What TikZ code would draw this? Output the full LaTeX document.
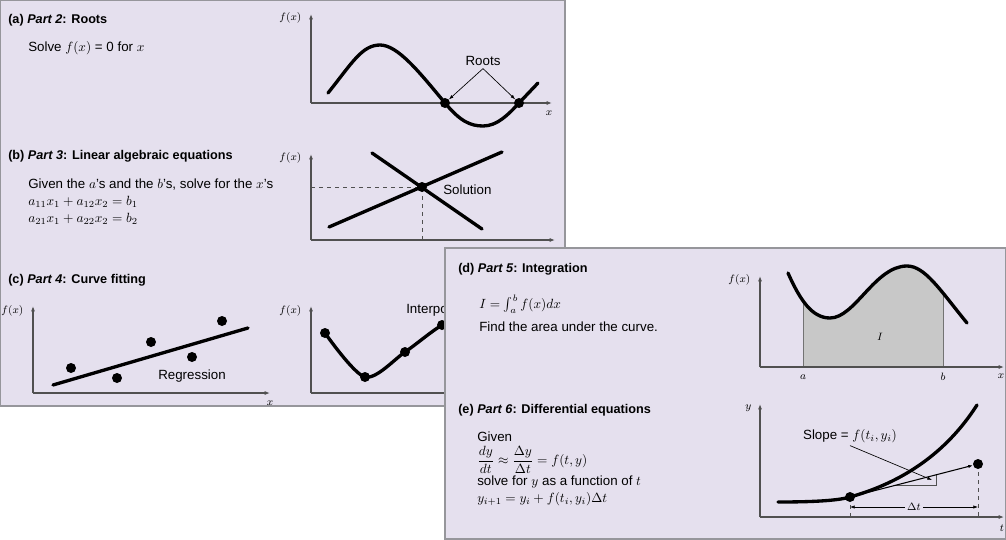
\documentclass[tikz,border=0pt]{standalone}
\usepackage{fontspec}
\setmainfont{Liberation Sans}
\usetikzlibrary{arrows.meta}
\definecolor{panelbg}{RGB}{229,224,238}
\definecolor{panelrule}{RGB}{150,150,155}
\definecolor{axisgray}{RGB}{80,80,80}
\definecolor{areagray}{RGB}{200,200,200}
\tikzset{
  panel/.style={fill=panelbg,draw=panelrule,line width=0.8pt},
  axisline/.style={axisgray,line width=0.9pt,-{Latex[length=4pt,width=3pt]}},
  thickcurve/.style={line width=2.5pt,line cap=round},
  dot/.style={circle,fill=black,inner sep=0pt,minimum size=7.5pt},
  paneltitle/.style={anchor=west,inner sep=0pt,font=\fontsize{9.5}{11}\selectfont\bfseries},
  bodytext/.style={anchor=west,inner sep=0pt,font=\fontsize{10}{12}\selectfont},
  axlabel/.style={font=\fontsize{8}{9}\selectfont},
  guide/.style={axisgray,dashed,line width=0.5pt},
  pointer/.style={line width=0.5pt,-{Latex[length=3.5pt,width=2.5pt]}},
}
\begin{document}
\begin{tikzpicture}[x={(0.75pt,0)},y={(0,-0.75pt)}]
  \useasboundingbox (0,0) rectangle (1006,539);
  % back panel: parts 2 to 4
  \draw[panel] (0,0) rectangle (565,406);

  % (a) roots
  \node[paneltitle] (ta) at (8,20) {(a) \textit{Part 2}: Roots};
  \node[bodytext] (sa) at (28,48) {Solve $f(x)$ = 0 for $x$};
  \draw[axisline] (311,103) -- (311,14);
  \draw[axisline] (311,103) -- (552,103);
  \node[axlabel,anchor=east] (fa) at (306,18) {$f(x)$};
  \node[axlabel] (xa) at (549,113) {$x$};
  \draw[thickcurve] (328,93) .. controls (352,63) and (362,45) .. (380,45)
    .. controls (398,45) and (420,73) .. (445,103)
    .. controls (460,121) and (470,126) .. (483,126)
    .. controls (497,126) and (508,115) .. (519,103) -- (538,83);
  \node[dot] (r1) at (445,103) {};
  \node[dot] (r2) at (519,103) {};
  \node[bodytext,anchor=center,inner sep=2pt] (roots) at (483,61) {Roots};
  \draw[pointer] (roots.south) -- (r1);
  \draw[pointer] (roots.south) -- (r2);

  % (b) linear algebraic equations
  \node[paneltitle] (tb) at (8,156) {(b) \textit{Part 3}: Linear algebraic equations};
  \node[bodytext] (gb) at (28,185) {Given the $a$'s and the $b$'s, solve for the $x$'s};
  \node[bodytext] (eq1) at (28,202) {$a_{11}x_1 + a_{12}x_2 = b_1$};
  \node[bodytext] (eq2) at (28,219) {$a_{21}x_1 + a_{22}x_2 = b_2$};
  \draw[axisline] (311,240) -- (311,154);
  \draw[axisline] (311,240) -- (555,240);
  \node[axlabel,anchor=east] (fb) at (306,158) {$f(x)$};
  \node[axlabel] (xb) at (553,250) {$x$};
  \coordinate (hb) at (311,187);
  \coordinate (vb) at (422,240);
  \draw[guide] (hb) -- (422,187) -- (vb);
  \draw[thickcurve] (329,227) -- (502,152);
  \draw[thickcurve] (372,153) -- (482,229);
  \node[dot] (sol) at (422,187) {};
  \node[bodytext] (soltext) at (443,190) {Solution};

  % (c) curve fitting
  \node[paneltitle] (tc) at (8,280) {(c) \textit{Part 4}: Curve fitting};
  \draw[axisline] (33,393) -- (33,306);
  \draw[axisline] (33,393) -- (270,393);
  \node[axlabel,anchor=east] (fc) at (28,311) {$f(x)$};
  \node[axlabel] (xc) at (270,403) {$x$};
  \draw[thickcurve] (53,385) -- (248,328);
  \foreach \px/\py [count=\i] in {71/368,117/378,151/342,192/357,222/321}
    \node[dot] (reg\i) at (\px,\py) {};
  \node[bodytext,anchor=center] (regtext) at (192,376) {Regression};
  \draw[axisline] (311,393) -- (311,306);
  \draw[axisline] (311,393) -- (555,393);
  \node[axlabel,anchor=east] (fc2) at (306,311) {$f(x)$};
  \draw[thickcurve] plot[smooth] coordinates {(325,333) (365,377) (405,352) (442,325) (490,300)};
  \foreach \px/\py [count=\i] in {325/333,365/377,405/352,442/325}
    \node[dot] (int\i) at (\px,\py) {};
  \node[bodytext] (inttext) at (406,310) {Interpolation};

  % front panel: parts 5 and 6
  \draw[panel] (445,248) rectangle (1006,539);

  % (d) integration
  \node[paneltitle] (td) at (458,269) {(d) \textit{Part 5}: Integration};
  \node[bodytext] (integral) at (479,304) {$I = \int_a^b f(x)dx$};
  \node[bodytext] (area) at (479,327) {Find the area under the curve.};
  \begin{scope}
    \clip (788,367) -- (788,273) .. controls (800,300) and (812,318) .. (830,318)
      .. controls (855,318) and (875,266) .. (907,266)
      .. controls (925,266) and (940,290) .. (967,323) -- (967,367) -- cycle;
    \fill[areagray] (803,240) rectangle (943,367);
    \draw[axisgray!80,line width=0.6pt] (803,240) -- (803,367) (943,240) -- (943,367);
  \end{scope}
  \draw[thickcurve] (788,273) .. controls (800,300) and (812,318) .. (830,318)
    .. controls (855,318) and (875,266) .. (907,266)
    .. controls (925,266) and (940,290) .. (967,323);
  \draw[axisline] (760,367) -- (760,276);
  \draw[axisline] (760,367) -- (1004,367);
  \node[axlabel,anchor=east] (fd) at (755,280) {$f(x)$};
  \node[axlabel] (xd) at (1001,376) {$x$};
  \node[axlabel] (la) at (803,377) {$a$};
  \node[axlabel] (lb) at (943,377) {$b$};
  \node[axlabel] (li) at (880,337) {$I$};

  % (e) differential equations
  \node[paneltitle] (te) at (458,410) {(e) \textit{Part 6}: Differential equations};
  \node[bodytext] (given) at (477,437) {Given};
  \node[bodytext] (ode) at (477,460) {$\displaystyle\frac{dy}{dt} \approx \frac{\Delta y}{\Delta t} = f(t, y)$};
  \node[bodytext] (solve) at (477,482) {solve for $y$ as a function of $t$};
  \node[bodytext] (euler) at (477,499) {$y_{i+1} = y_i + f(t_i, y_i)\Delta t$};
  \draw[axisline] (760,517) -- (760,404);
  \draw[axisline] (760,517) -- (1004,517);
  \node[axlabel,anchor=east] (ye) at (756,408) {$y$};
  \node[axlabel] (te2) at (1002,528) {$t$};
  \coordinate (s1foot) at (850,517);
  \coordinate (s2foot) at (978,517);
  \draw[guide] (850,497) -- (s1foot);
  \draw[guide] (978,464) -- (s2foot);
  \draw[thickcurve] (778,502) .. controls (820,502) and (840,500) .. (850,497)
    .. controls (900,483) and (945,455) .. (977,405);
  \draw[axisgray,line width=0.5pt] (896,485) -- (936,485) -- (936,475);
  \node[dot] (s1) at (850,497) {};
  \node[dot] (s2) at (978,464) {};
  \draw[pointer,line width=0.8pt] (s1.center) -- (s2);
  \node[bodytext,anchor=center,inner sep=2pt] (slope) at (850,436) {Slope = $f(t_i, y_i)$};
  \coordinate (slopetip) at (932,480);
  \draw[pointer] (slope.south) -- (slopetip);
  \draw[line width=0.5pt,{Latex[length=3.5pt,width=2.5pt]}-{Latex[length=3.5pt,width=2.5pt]}] (850,507) -- (978,507)
    node[midway,fill=panelbg,inner sep=2pt,font=\fontsize{8.5}{10}\selectfont] (dt) {$\Delta t$};
\end{tikzpicture}
\end{document}
